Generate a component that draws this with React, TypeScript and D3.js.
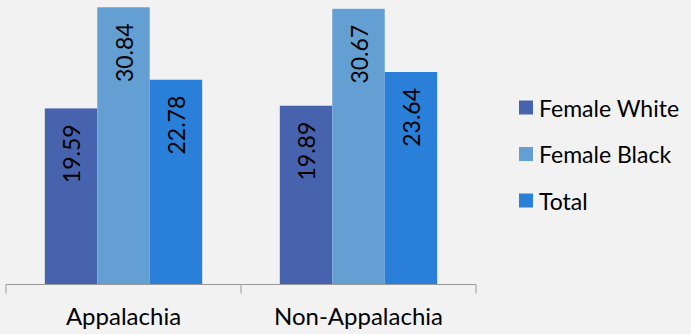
import React from "react";
import * as d3 from "d3";

const categories = ["Appalachia", "Non-Appalachia"];
const seriesNames = ["Female White", "Female Black", "Total"];
const femaleWhite = [19.59, 19.89];
const femaleBlack = [30.84, 30.67];
const total = [22.78, 23.64];
const colors = ["#4863ae", "#639fd2", "#2a7fd9"];

const W = 691;
const H = 334;
const FONT = "Lato, 'Open Sans', sans-serif";

export default function App() {
  const values = [femaleWhite, femaleBlack, total];
  const x0 = d3.scaleBand<string>().domain(categories).range([6, 476]).paddingInner(0).paddingOuter(0);
  const x1 = d3.scaleBand<string>().domain(seriesNames).range([0, x0.bandwidth()]).paddingInner(0).paddingOuter(0.74);
  const y = d3.scaleLinear().domain([0, 31.65]).range([284.5, 0]);
  const base = y(0);

  return (
    <svg width={W} height={H} style={{ position: "fixed", left: 0, top: 0, background: "#f2f2f2" }}>
      <rect x={0} y={0} width={W} height={H} fill="#f2f2f2" />
      {categories.map((c, ci) => (
        <g key={c} transform={`translate(${x0(c)},0)`}>
          {seriesNames.map((s, si) => {
            const v = values[si][ci];
            const bx = x1(s)!;
            const top = y(v);
            const cx = bx + x1.bandwidth() / 2;
            return (
              <g key={s}>
                <rect x={bx} y={top} width={x1.bandwidth()} height={base - top} fill={colors[si]} />
                <text
                  transform={`translate(${cx},${top + 16}) rotate(-90)`}
                  textAnchor="end"
                  dominantBaseline="central"
                  fontFamily={FONT}
                  fontSize={23}
                  fill="#000"
                >
                  {v.toFixed(2)}
                </text>
              </g>
            );
          })}
          <text x={x0.bandwidth() / 2} y={325} textAnchor="middle" fontFamily={FONT} fontSize={24} fill="#000">
            {c}
          </text>
        </g>
      ))}
      <line x1={6} x2={476} y1={base} y2={base} stroke="#9a9a9a" strokeWidth={1} />
      {[...categories.map((c) => x0(c)!), 476].map((t, i) => (
        <line key={i} x1={t} x2={t} y1={base} y2={base + 9} stroke="#9a9a9a" strokeWidth={1} />
      ))}
      {seriesNames.map((s, si) => (
        <g key={s} transform={`translate(519,${107.5 + si * 46.5})`}>
          <rect x={0} y={-7} width={14} height={14} fill={colors[si]} />
          <text x={20} y={0} dominantBaseline="central" fontFamily={FONT} fontSize={23} fill="#000">
            {s}
          </text>
        </g>
      ))}
    </svg>
  );
}
